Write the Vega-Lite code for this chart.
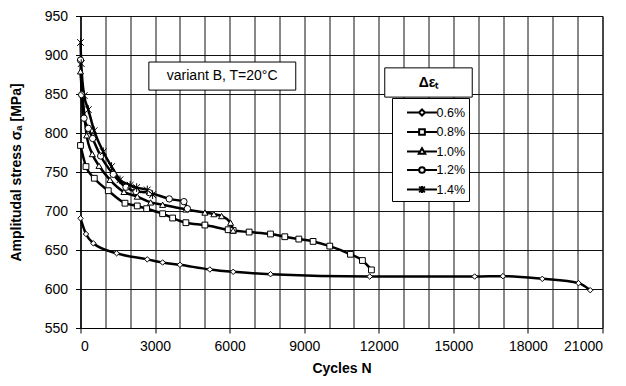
{
  "$schema": "https://vega.github.io/schema/vega-lite/v6.json",
  "width": 522,
  "height": 312,
  "autosize": {"type": "none"},
  "padding": {"left": 80.5, "top": 16, "right": 23.5, "bottom": 58},
  "background": "white",
  "config": {
    "font": "Liberation Sans",
    "view": {"stroke": "black", "strokeWidth": 1},
    "axis": {
      "domainColor": "black",
      "tickColor": "black",
      "gridColor": "#111",
      "gridWidth": 1,
      "labelColor": "black",
      "titleColor": "black",
      "labelFont": "Liberation Sans",
      "titleFont": "Liberation Sans",
      "labelFontSize": 14,
      "titleFontSize": 14,
      "titleFontWeight": "bold",
      "tickSize": 5
    }
  },
  "datasets": {
    "curves": [
      {"s": "0.6%", "n": 0, "v": 690.6},
      {"s": "0.6%", "n": 221, "v": 670.5},
      {"s": "0.6%", "n": 515, "v": 658.6},
      {"s": "0.6%", "n": 1455, "v": 645.8},
      {"s": "0.6%", "n": 2686, "v": 638},
      {"s": "0.6%", "n": 3303, "v": 634},
      {"s": "0.6%", "n": 4000, "v": 631},
      {"s": "0.6%", "n": 5205, "v": 625},
      {"s": "0.6%", "n": 6143, "v": 622},
      {"s": "0.6%", "n": 7644, "v": 619},
      {"s": "0.6%", "n": 11636, "v": 616},
      {"s": "0.6%", "n": 15856, "v": 616},
      {"s": "0.6%", "n": 16994, "v": 616.5},
      {"s": "0.6%", "n": 18577, "v": 613},
      {"s": "0.6%", "n": 20036, "v": 607.5},
      {"s": "0.6%", "n": 20506, "v": 598.5},
      {"s": "0.8%", "n": 0, "v": 784},
      {"s": "0.8%", "n": 221, "v": 757},
      {"s": "0.8%", "n": 555, "v": 742},
      {"s": "0.8%", "n": 1118, "v": 726},
      {"s": "0.8%", "n": 1789, "v": 710},
      {"s": "0.8%", "n": 2284, "v": 706.5},
      {"s": "0.8%", "n": 2660, "v": 703},
      {"s": "0.8%", "n": 3303, "v": 696.5},
      {"s": "0.8%", "n": 3706, "v": 691},
      {"s": "0.8%", "n": 4240, "v": 685},
      {"s": "0.8%", "n": 5004, "v": 682},
      {"s": "0.8%", "n": 5940, "v": 676},
      {"s": "0.8%", "n": 6141, "v": 675},
      {"s": "0.8%", "n": 6785, "v": 673},
      {"s": "0.8%", "n": 7644, "v": 670.5},
      {"s": "0.8%", "n": 8219, "v": 667},
      {"s": "0.8%", "n": 8782, "v": 664},
      {"s": "0.8%", "n": 9357, "v": 661},
      {"s": "0.8%", "n": 10028, "v": 655},
      {"s": "0.8%", "n": 10860, "v": 644.5},
      {"s": "0.8%", "n": 11342, "v": 636.5},
      {"s": "0.8%", "n": 11704, "v": 624.5},
      {"s": "1.0%", "n": 0, "v": 879},
      {"s": "1.0%", "n": 249, "v": 797},
      {"s": "1.0%", "n": 475, "v": 773},
      {"s": "1.0%", "n": 744, "v": 758},
      {"s": "1.0%", "n": 1186, "v": 740},
      {"s": "1.0%", "n": 1748, "v": 724.5},
      {"s": "1.0%", "n": 2284, "v": 718.5},
      {"s": "1.0%", "n": 2822, "v": 711},
      {"s": "1.0%", "n": 3303, "v": 708},
      {"s": "1.0%", "n": 4240, "v": 702},
      {"s": "1.0%", "n": 5004, "v": 698},
      {"s": "1.0%", "n": 5366, "v": 696},
      {"s": "1.0%", "n": 5675, "v": 693.5},
      {"s": "1.0%", "n": 6037, "v": 685},
      {"s": "1.0%", "n": 6141, "v": 675},
      {"s": "1.2%", "n": 0, "v": 893.5},
      {"s": "1.2%", "n": 48, "v": 849},
      {"s": "1.2%", "n": 141, "v": 819},
      {"s": "1.2%", "n": 314, "v": 806},
      {"s": "1.2%", "n": 490, "v": 793},
      {"s": "1.2%", "n": 812, "v": 770.5},
      {"s": "1.2%", "n": 1318, "v": 747},
      {"s": "1.2%", "n": 1829, "v": 730.5},
      {"s": "1.2%", "n": 2231, "v": 725},
      {"s": "1.2%", "n": 2766, "v": 723.5},
      {"s": "1.2%", "n": 3570, "v": 715.5},
      {"s": "1.2%", "n": 4160, "v": 712},
      {"s": "1.2%", "n": 4300, "v": 703},
      {"s": "1.4%", "n": 0, "v": 916},
      {"s": "1.4%", "n": 30, "v": 889},
      {"s": "1.4%", "n": 150, "v": 848},
      {"s": "1.4%", "n": 314, "v": 830},
      {"s": "1.4%", "n": 550, "v": 803},
      {"s": "1.4%", "n": 916, "v": 776},
      {"s": "1.4%", "n": 1250, "v": 757},
      {"s": "1.4%", "n": 1588, "v": 740},
      {"s": "1.4%", "n": 2000, "v": 733},
      {"s": "1.4%", "n": 2259, "v": 730},
      {"s": "1.4%", "n": 2686, "v": 727},
      {"s": "1.4%", "n": 2900, "v": 721}
    ],
    "notes": [
      {"kind": "variant", "x1": 2750, "x2": 8660, "y1": 855, "y2": 891, "tx": 5700, "ty": 873, "label": "variant B,  T=20°C"},
      {"kind": "legendtitle", "x1": 12240, "x2": 15760, "y1": 846, "y2": 883.5, "tx": 14000, "ty": 864.5, "label": "Δεₜ"}
    ]
  },
  "encoding": {
    "x": {
      "type": "quantitative",
      "scale": {"domain": [0, 21000], "nice": false, "zero": false},
      "title": "Cycles N",
      "axis": {
        "values": [0, 1000, 2000, 3000, 4000, 5000, 6000, 7000, 8000, 9000, 10000, 11000, 12000, 13000, 14000, 15000, 16000, 17000, 18000, 19000, 20000, 21000],
        "format": "d",
        "labelExpr": "datum.value % 3000 === 0 ? datum.label : ''",
        "tickOpacity": {"condition": {"test": "datum.value % 3000 === 0", "value": 1}, "value": 0},
        "labelOverlap": false,
        "labelPadding": 6,
        "titlePadding": 8
      }
    },
    "y": {
      "type": "quantitative",
      "scale": {"domain": [550, 950], "nice": false, "zero": false},
      "title": "Amplitudal  stress σₐ  [MPa]",
      "axis": {
        "values": [550, 600, 650, 700, 750, 800, 850, 900, 950],
        "format": "d",
        "labelOverlap": false,
        "labelPadding": 8,
        "titlePadding": 21
      }
    }
  },
  "resolve": {"scale": {"shape": "independent", "size": "independent"}, "legend": {"shape": "independent", "size": "independent"}},
  "layer": [
    {
      "data": {"name": "notes"},
      "mark": {"type": "rect", "fill": "white", "stroke": "black", "strokeWidth": 1},
      "encoding": {
        "x": {"field": "x1", "type": "quantitative"},
        "x2": {"field": "x2"},
        "y": {"field": "y1", "type": "quantitative"},
        "y2": {"field": "y2"}
      }
    },
    {
      "data": {"name": "notes"},
      "transform": [{"filter": "datum.kind === 'variant'"}],
      "mark": {"type": "text", "fontSize": 14, "font": "Liberation Sans", "color": "black", "align": "center", "baseline": "middle"},
      "encoding": {
        "x": {"field": "tx", "type": "quantitative"},
        "y": {"field": "ty", "type": "quantitative"},
        "text": {"field": "label"}
      }
    },
    {
      "data": {"name": "notes"},
      "transform": [{"filter": "datum.kind === 'legendtitle'"}],
      "mark": {"type": "text", "fontSize": 14, "fontWeight": "bold", "font": "Liberation Sans", "color": "black", "align": "center", "baseline": "middle"},
      "encoding": {
        "x": {"field": "tx", "type": "quantitative"},
        "y": {"field": "ty", "type": "quantitative"},
        "text": {"field": "label"}
      }
    },
    {
      "data": {"name": "curves"},
      "mark": {"type": "line", "interpolate": "monotone", "color": "black", "strokeWidth": 2.5},
      "encoding": {
        "x": {"field": "n", "type": "quantitative"},
        "y": {"field": "v", "type": "quantitative"},
        "detail": {"field": "s"}
      }
    },
    {
      "data": {"name": "curves"},
      "mark": {"type": "point", "filled": true, "fill": "white", "stroke": "black", "strokeWidth": 1, "opacity": 1},
      "encoding": {
        "x": {"field": "n", "type": "quantitative"},
        "y": {"field": "v", "type": "quantitative"},
        "shape": {
          "field": "s", "type": "nominal",
          "scale": {
            "domain": ["0.6%", "0.8%", "1.0%", "1.2%", "1.4%"],
            "range": ["diamond", "square", "triangle-up", "circle", "M-1,-1L1,1M-1,1L1,-1M0,-1.3L0,1.3"]
          },
          "legend": null
        },
        "size": {
          "field": "s", "type": "nominal",
          "scale": {"domain": ["0.6%", "0.8%", "1.0%", "1.2%", "1.4%"], "range": [30, 44, 38, 32, 36]},
          "legend": null
        }
      }
    },
    {
      "data": {"name": "curves"},
      "mark": {"type": "point", "filled": false, "color": "black", "strokeWidth": 2, "opacity": 0, "size": 361},
      "encoding": {
        "x": {"field": "n", "type": "quantitative"},
        "y": {"field": "v", "type": "quantitative"},
        "shape": {
          "field": "s", "type": "nominal",
          "scale": {
            "domain": ["0.6%", "0.8%", "1.0%", "1.2%", "1.4%"],
            "range": [
              "M-1.58,0L-0.32,0M0.32,0L1.58,0M0,-0.32L0.32,0L0,0.32L-0.32,0Z",
              "M-1.58,0L-0.3,0M0.3,0L1.58,0M-0.3,-0.3L0.3,-0.3L0.3,0.3L-0.3,0.3Z",
              "M-1.58,0L-0.2,0M0.2,0L1.58,0M0,-0.34L0.34,0.24L-0.34,0.24Z",
              "M-1.58,0L-0.3,0M0.3,0L1.58,0M0.3,0A0.3,0.3,0,1,1,-0.3,0A0.3,0.3,0,1,1,0.3,0Z",
              "M-1.58,0L1.58,0M-0.3,-0.3L0.3,0.3M-0.3,0.3L0.3,-0.3M0,-0.36L0,0.36"
            ]
          },
          "legend": {
            "title": null,
            "orient": "none",
            "legendX": 311.5,
            "legendY": 82,
            "strokeColor": "black",
            "fillColor": "white",
            "padding": 4,
            "rowPadding": 1.5,
            "symbolSize": 361,
            "symbolOffset": 15.5,
            "labelOffset": 4,
            "labelFontSize": 12.5,
            "labelFont": "Liberation Sans",
            "labelColor": "black",
            "symbolStrokeWidth": 2,
            "symbolStrokeColor": "black",
            "symbolOpacity": 1,
            "encode": {
              "symbols": {
                "update": {
                  "opacity": {"value": 1},
                  "stroke": {"value": "black"},
                  "strokeWidth": {"value": 2},
                  "size": {"value": 361}
                }
              }
            }
          }
        }
      }
    }
  ]
}
